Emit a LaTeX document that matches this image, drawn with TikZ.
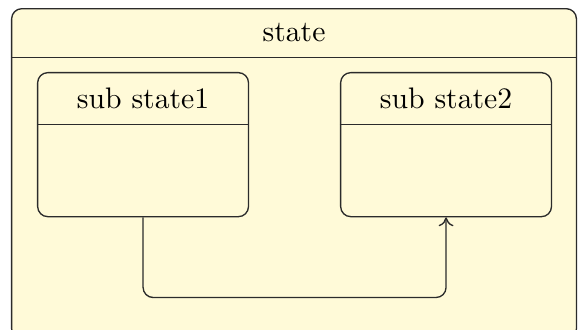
\documentclass[tikz,border=0pt]{standalone}
\usetikzlibrary{arrows.meta,positioning,calc}
\definecolor{stfill}{HTML}{FFFAD8}
\definecolor{stline}{HTML}{2B2B2B}

\begin{document}
\begin{tikzpicture}[
  x=1pt, y=1pt,
  stbox/.style={draw=stline, line width=0.45pt, rounded corners=3.4pt, fill=stfill,
                inner sep=0pt, anchor=north west},
  sttitle/.style={font=\normalsize, text=black, inner sep=0pt, anchor=north},
  sep/.style={draw=stline, line width=0.45pt},
  trans/.style={-{To[length=3pt,width=5pt]}, stline, line width=0.45pt, rounded corners=3.4pt},
]
  \clip (0,0) rectangle (196,110.8);

  %% -- outer state --
  \node[stbox, minimum width=190.2pt, minimum height=111.2pt] (st) at (3.7,108.1) {};
  \node[sttitle, minimum height=16.2pt] (sttl) at (st.north) {state};
  \draw[sep] (st.west |- sttl.south) -- (st.east |- sttl.south);

  %% -- sub states --
  \node[stbox, minimum width=71pt, minimum height=48.5pt] (sub1) at (12.46,86.56) {};
  \node[sttitle, minimum height=17.2pt] (sub1tl) at (sub1.north) {sub state1};
  \draw[sep] (sub1.west |- sub1tl.south) -- (sub1.east |- sub1tl.south);

  \node[stbox, minimum width=71pt, minimum height=48.5pt] (sub2) at (114.5,86.56) {};
  \node[sttitle, minimum height=17.2pt] (sub2tl) at (sub2.north) {sub state2};
  \draw[sep] (sub2.west |- sub2tl.south) -- (sub2.east |- sub2tl.south);

  %% -- transition --
  \draw[trans] (sub1.south) -- ++(0,-27) -| (sub2.south);
\end{tikzpicture}
\end{document}
